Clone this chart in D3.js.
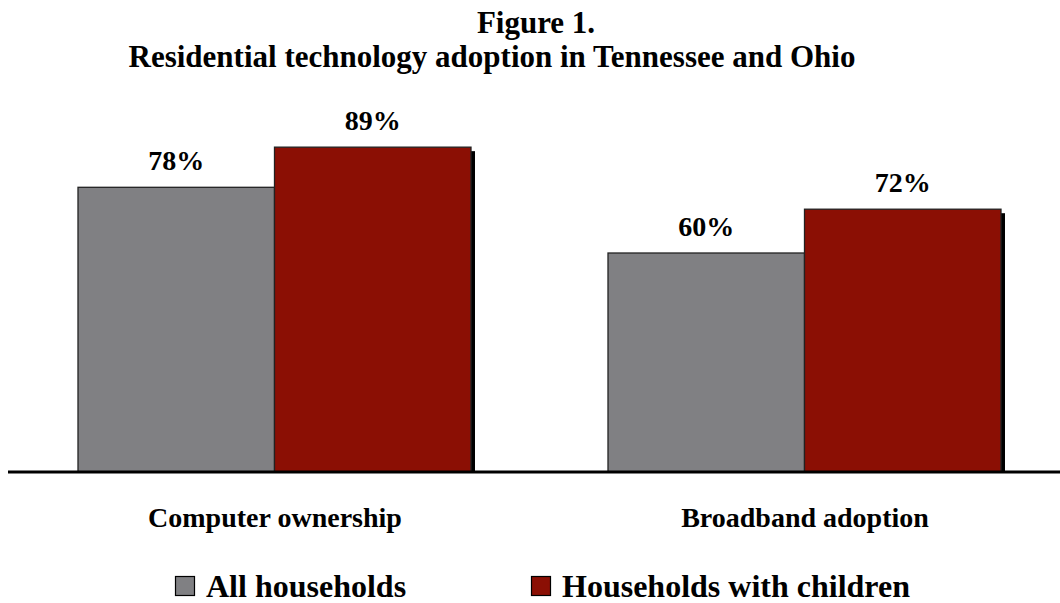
<!DOCTYPE html>
<html>
<head>
<meta charset="utf-8">
<script src="https://cdn.jsdelivr.net/npm/d3@7"></script>
<style>
  html, body { margin: 0; padding: 0; background: #fff; }
  svg { display: block; }
  text { font-family: "Liberation Serif", "Times New Roman", serif; font-weight: bold; fill: #000; }
</style>
</head>
<body>
<svg id="chart" width="1060" height="603"></svg>
<script>
const categories = ["Computer ownership", "Broadband adoption"];
const seriesNames = ["All households", "Households with children"];
const allHouseholds = [78, 60];
const withChildren = [89, 72];
const titleLines = ["Figure 1.", "Residential technology adoption in Tennessee and Ohio"];
const colors = ["#808083", "#8B0F04"];

const svg = d3.select("#chart");
const W = 1060, H = 603;

const values = [allHouseholds, withChildren];

const x0 = d3.scaleBand().domain(categories).range([10, 1070]).padding(0);
const x1 = d3.scaleBand().domain(seriesNames).range([68, 461]).padding(0);
const y = d3.scaleLinear().domain([0, 100]).range([472, 107]);

// Title
const titleX = [536, 492];
svg.selectAll("text.title").data(titleLines).enter().append("text")
  .attr("class", "title")
  .attr("x", (d, i) => titleX[i])
  .attr("y", (d, i) => 33 + i * 34)
  .attr("text-anchor", "middle")
  .style("font-size", "31px")
  .text(d => d);

const data = [];
categories.forEach((c, ci) => {
  seriesNames.forEach((s, si) => {
    data.push({ cat: c, series: s, si: si, value: values[si][ci] });
  });
});

// Shadows
svg.append("g").selectAll("rect").data(data).enter().append("rect")
  .attr("x", d => x0(d.cat) + x1(d.series) + 4)
  .attr("y", d => y(d.value) + 4)
  .attr("width", x1.bandwidth())
  .attr("height", d => y(0) - y(d.value) - 4)
  .attr("fill", "#000");

// Bars
svg.append("g").selectAll("rect").data(data).enter().append("rect")
  .attr("x", d => x0(d.cat) + x1(d.series))
  .attr("y", d => y(d.value))
  .attr("width", x1.bandwidth())
  .attr("height", d => y(0) - y(d.value))
  .attr("fill", d => colors[d.si])
  .attr("stroke", "#222")
  .attr("stroke-width", 1.3);

// Value labels
svg.append("g").selectAll("text").data(data).enter().append("text")
  .attr("x", d => x0(d.cat) + x1(d.series) + x1.bandwidth() / 2)
  .attr("y", d => y(d.value) - 17)
  .attr("text-anchor", "middle")
  .style("font-size", "28px")
  .text(d => d.value + "%");

// Axis baseline
const xAxis = d3.axisBottom(x0).tickSize(0).tickPadding(0);
const axisG = svg.append("g").attr("transform", `translate(0,${y(0)})`).call(xAxis);
axisG.select(".domain").attr("d", "M8,0H1060").attr("stroke", "#000").attr("stroke-width", 3);
axisG.selectAll(".tick text")
  .attr("dy", 0)
  .attr("y", 55)
  .style("font-size", "28px")
  .style("font-family", '"Liberation Serif", "Times New Roman", serif')
  .style("font-weight", "bold")
  .attr("fill", "#000");

// Legend
const legendX = [175, 531];
const lg = svg.append("g").selectAll("g").data(seriesNames).enter().append("g")
  .attr("transform", (d, i) => `translate(${legendX[i]},576)`);
lg.append("rect").attr("x", 0.5).attr("y", 0.5).attr("width", 19).attr("height", 19)
  .attr("fill", (d, i) => colors[i]).attr("stroke", "#000").attr("stroke-width", 1.2);
lg.append("text").attr("x", 31).attr("y", 21).style("font-size", "32px").text(d => d);
</script>
</body>
</html>
